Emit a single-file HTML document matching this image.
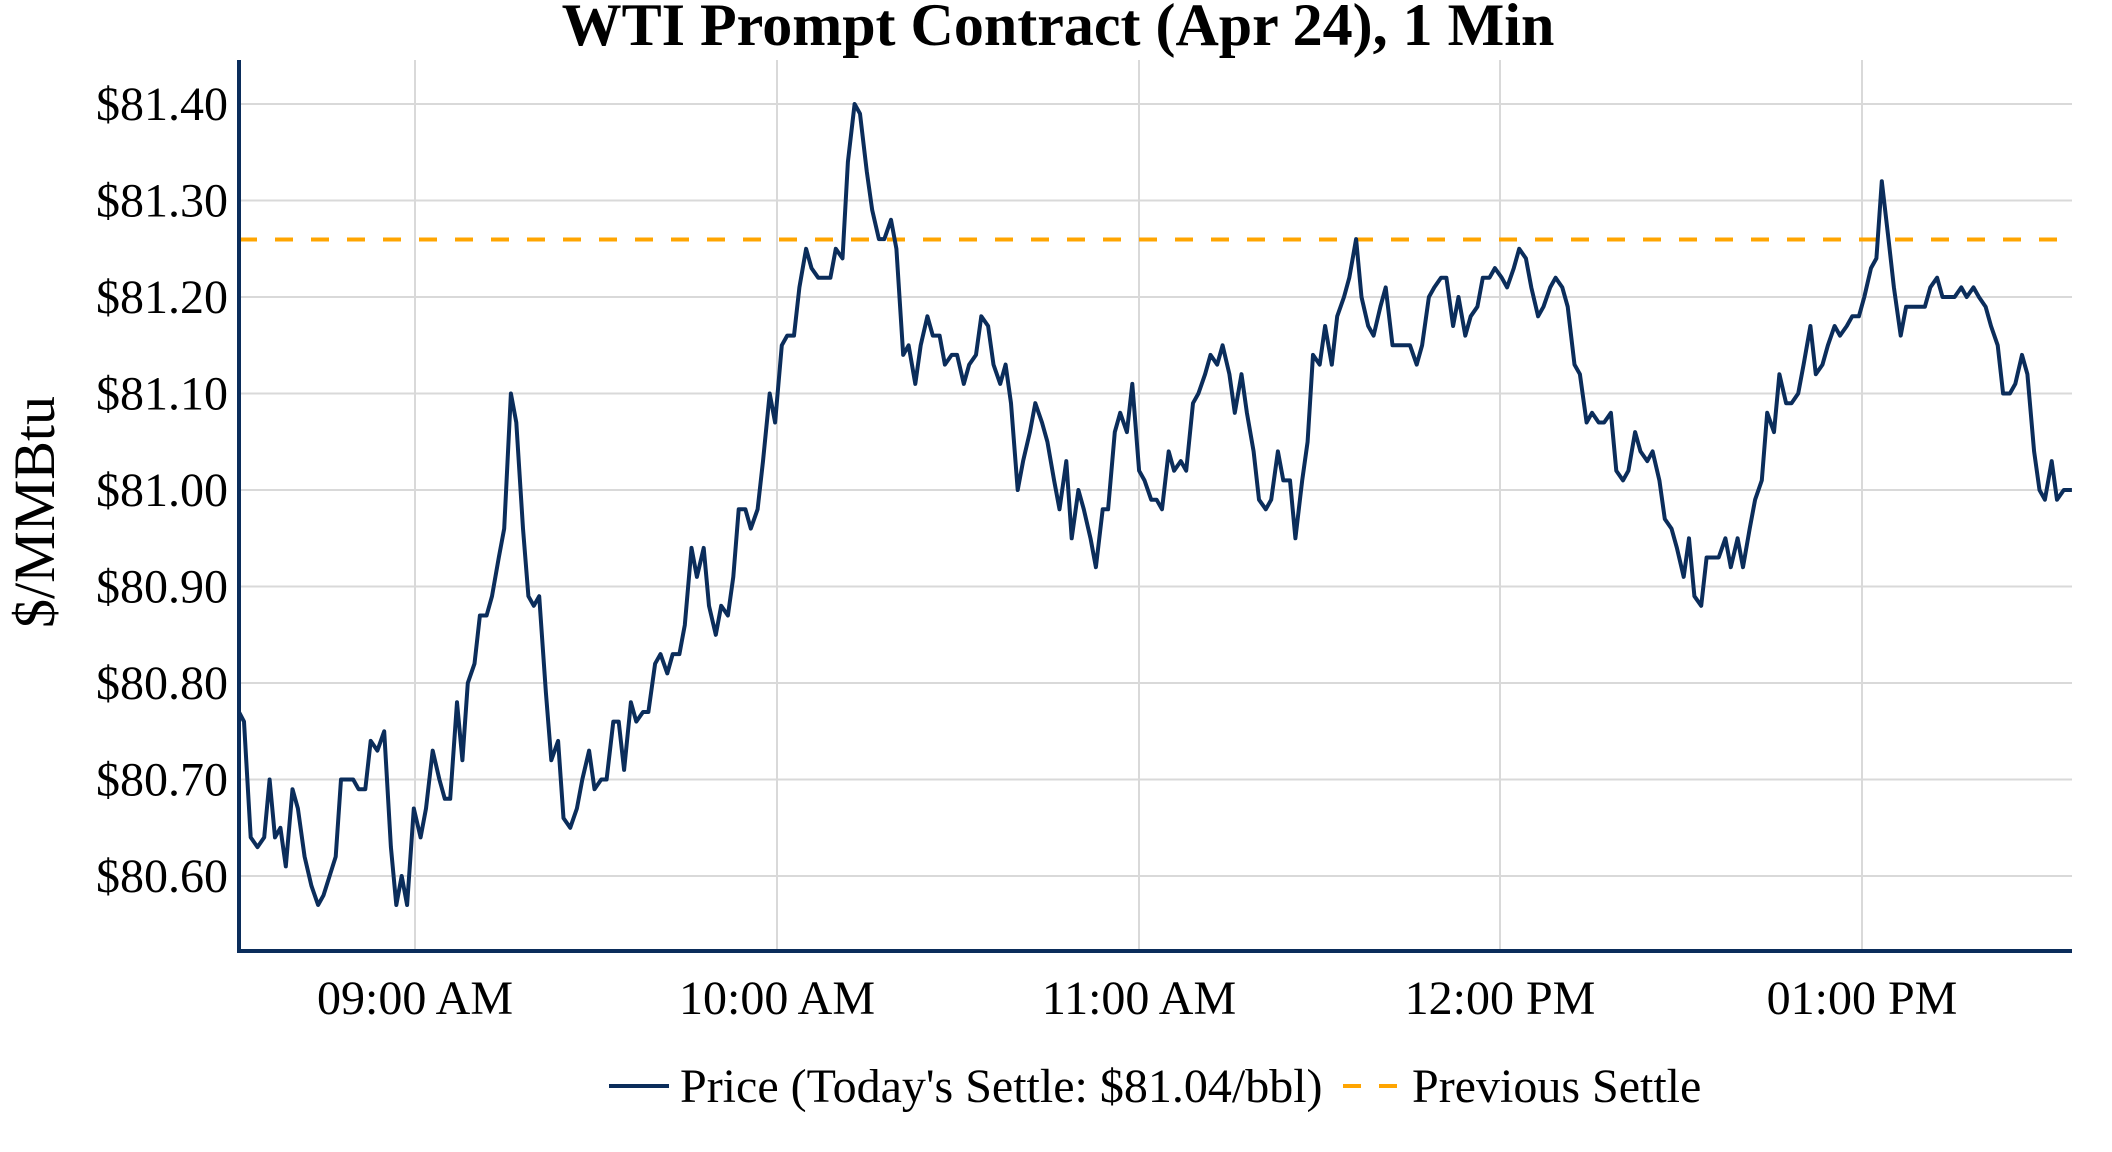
<!DOCTYPE html>
<html><head><meta charset="utf-8"><style>
html,body{margin:0;padding:0;background:#fff;}
svg{display:block;font-family:"Liberation Serif",serif;}
</style></head><body>
<svg id="c" width="2112" height="1152" viewBox="0 0 2112 1152" xmlns="http://www.w3.org/2000/svg">
<rect width="2112" height="1152" fill="#fff"/>
<g id="grid" stroke="#d9d9d9" stroke-width="2"></g>
<line x1="239" y1="239.5" x2="2072" y2="239.5" stroke="#ffa500" stroke-width="4" stroke-dasharray="18,18"/>
<path id="p" fill="none" stroke="#0b2d5b" stroke-width="4" stroke-linejoin="round"/>
<line x1="239" y1="60" x2="239" y2="953" stroke="#0b2d5b" stroke-width="4"/>
<line x1="237" y1="951" x2="2072" y2="951" stroke="#0b2d5b" stroke-width="4"/>
<text x="1058" y="45" text-anchor="middle" font-size="60" font-weight="bold">WTI Prompt Contract (Apr 24), 1 Min</text>
<g font-size="48" text-anchor="end" id="yl"></g>
<g font-size="48" text-anchor="middle">
<text x="415" y="1014">09:00 AM</text>
<text x="777" y="1014">10:00 AM</text>
<text x="1139" y="1014">11:00 AM</text>
<text x="1500" y="1014">12:00 PM</text>
<text x="1862" y="1014">01:00 PM</text>
</g>
<text transform="translate(54,512) rotate(-90)" text-anchor="middle" font-size="58">$/MMBtu</text>
<line x1="609" y1="1086" x2="669" y2="1086" stroke="#0b2d5b" stroke-width="4"/>
<text x="680" y="1102" font-size="48">Price (Today's Settle: $81.04/bbl)</text>
<line x1="1343" y1="1086" x2="1399" y2="1086" stroke="#ffa500" stroke-width="4" stroke-dasharray="18,18"/>
<text x="1412" y="1102" font-size="48">Previous Settle</text>
</svg>
<script>
var d=[176,80.77,181,80.76,186,80.64,191,80.63,196,80.64,200,80.70,204,80.64,208,80.65,212,80.61,217,80.69,221,80.67,226,80.62,231,80.59,236,80.57,240,80.58,249,80.62,253,80.70,262,80.70,266,80.69,271,80.69,275,80.74,280,80.73,285,80.75,290,80.63,294,80.57,298,80.60,302,80.57,307,80.67,312,80.64,316,80.67,321,80.73,326,80.70,330,80.68,334,80.68,339,80.78,343,80.72,347,80.80,352,80.82,356,80.87,361,80.87,365,80.89,370,80.93,374,80.96,379,81.10,383,81.07,388,80.96,392,80.89,396,80.88,400,80.89,405,80.79,409,80.72,414,80.74,418,80.66,423,80.65,428,80.67,432,80.70,437,80.73,441,80.69,446,80.70,450,80.70,455,80.76,459,80.76,463,80.71,468,80.78,472,80.76,477,80.77,481,80.77,486,80.82,490,80.83,495,80.81,499,80.83,504,80.83,508,80.86,513,80.94,517,80.91,522,80.94,526,80.88,531,80.85,535,80.88,540,80.87,544,80.91,548,80.98,553,80.98,557,80.96,562,80.98,566,81.03,571,81.10,575,81.07,580,81.15,584,81.16,589,81.16,593,81.21,598,81.25,602,81.23,607,81.22,611,81.22,616,81.22,620,81.25,625,81.24,629,81.34,634,81.40,638,81.39,643,81.33,647,81.29,652,81.26,656,81.26,661,81.28,665,81.25,670,81.14,674,81.15,679,81.11,683,81.15,688,81.18,692,81.16,697,81.16,701,81.13,706,81.14,710,81.14,715,81.11,719,81.13,724,81.14,728,81.18,733,81.17,737,81.13,742,81.11,746,81.13,750,81.09,755,81.00,759,81.03,764,81.06,768,81.09,773,81.07,777,81.05,782,81.01,786,80.98,791,81.03,795,80.95,800,81.00,804,80.98,809,80.95,813,80.92,818,80.98,822,80.98,827,81.06,831,81.08,836,81.06,840,81.11,845,81.02,849,81.01,854,80.99,858,80.99,862,80.98,867,81.04,871,81.02,876,81.03,880,81.02,885,81.09,889,81.10,894,81.12,898,81.14,903,81.13,907,81.15,912,81.12,916,81.08,921,81.12,925,81.08,930,81.04,934,80.99,939,80.98,943,80.99,948,81.04,952,81.01,957,81.01,961,80.95,966,81.01,970,81.05,974,81.14,979,81.13,983,81.17,988,81.13,992,81.18,997,81.20,1001,81.22,1006,81.26,1010,81.20,1015,81.17,1019,81.16,1024,81.19,1028,81.21,1033,81.15,1037,81.15,1042,81.15,1046,81.15,1051,81.13,1055,81.15,1060,81.20,1064,81.21,1069,81.22,1073,81.22,1078,81.17,1082,81.20,1087,81.16,1091,81.18,1096,81.19,1100,81.22,1105,81.22,1109,81.23,1114,81.22,1118,81.21,1123,81.23,1127,81.25,1132,81.24,1136,81.21,1141,81.18,1145,81.19,1150,81.21,1154,81.22,1159,81.21,1163,81.19,1168,81.13,1172,81.12,1177,81.07,1181,81.08,1186,81.07,1190,81.07,1195,81.08,1199,81.02,1204,81.01,1208,81.02,1213,81.06,1217,81.04,1222,81.03,1226,81.04,1231,81.01,1235,80.97,1240,80.96,1244,80.94,1249,80.91,1253,80.95,1257,80.89,1262,80.88,1266,80.93,1271,80.93,1275,80.93,1280,80.95,1284,80.92,1289,80.95,1293,80.92,1298,80.96,1302,80.99,1307,81.01,1311,81.08,1316,81.06,1320,81.12,1325,81.09,1329,81.09,1334,81.10,1338,81.13,1343,81.17,1347,81.12,1352,81.13,1356,81.15,1361,81.17,1365,81.16,1370,81.17,1374,81.18,1379,81.18,1383,81.20,1388,81.23,1392,81.24,1396,81.32,1401,81.26,1405,81.21,1410,81.16,1414,81.19,1419,81.19,1423,81.19,1428,81.19,1432,81.21,1437,81.22,1441,81.20,1446,81.20,1450,81.20,1455,81.21,1459,81.20,1464,81.21,1468,81.20,1473,81.19,1477,81.17,1482,81.15,1486,81.10,1491,81.10,1495,81.11,1500,81.14,1504,81.12,1509,81.04,1513,81.00,1517,80.99,1522,81.03,1526,80.99,1531,81.00,1537,81.00];
var S=1.348;
function X(xd){return Math.max(239,Math.min(xd*S,2072));}
function Y(v){return 104+(81.40-v)*965;}
var s="";
for(var i=0;i<d.length;i+=2){s+=(i?"L":"M")+X(d[i]).toFixed(1)+","+Y(d[i+1]).toFixed(1);}
document.getElementById("p").setAttribute("d",s);
var g=document.getElementById("grid"),h="",yl="";
[415,777,1139,1500,1862].forEach(function(x){h+='<line x1="'+x+'" y1="60" x2="'+x+'" y2="951"/>';});
var labs=["$81.40","$81.30","$81.20","$81.10","$81.00","$80.90","$80.80","$80.70","$80.60"];
for(var k=0;k<9;k++){var y=104+k*96.5;h+='<line x1="239" y1="'+y+'" x2="2072" y2="'+y+'"/>';yl+='<text x="228" y="'+(y+16)+'">'+labs[k]+'</text>';}
g.innerHTML=h;
document.getElementById("yl").innerHTML=yl;
</script>
</body></html>
